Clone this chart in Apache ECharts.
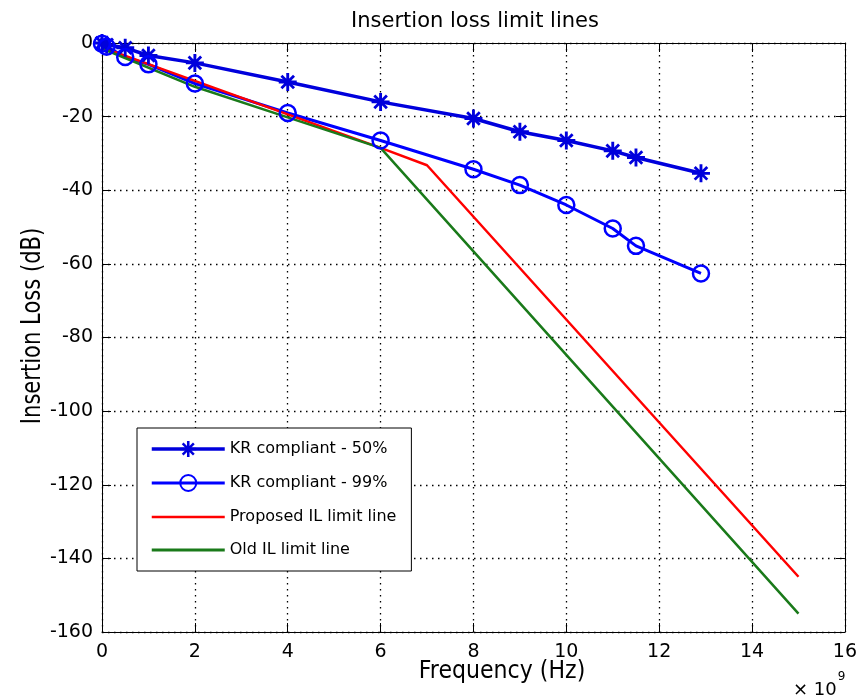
<!DOCTYPE html>
<html>
<head>
<meta charset="utf-8">
<script src="https://cdn.jsdelivr.net/npm/echarts@6/dist/echarts.min.js"></script>
<style>html,body{margin:0;padding:0;background:#fff}#c{width:860px;height:698px}</style>
</head>
<body>
<div id="c"></div>
<script>
// ---- data (frequency in units of 1e9 Hz, loss in dB) ----
const xTicks = [0, 2, 4, 6, 8, 10, 12, 14, 16];
const yTicks = [-160, -140, -120, -100, -80, -60, -40, -20, 0];

const freqKR = [0, 0.1, 0.5, 1, 2, 4, 6, 8, 9, 10, 11, 11.5, 12.9];
const lossKR50 = [0, -0.5, -1.3, -3.4, -5.4, -10.6, -16, -20.5, -24.1, -26.5, -29.3, -31.1, -35.4];
const lossKR99 = [-0.2, -1.0, -3.8, -5.8, -11.0, -19.0, -26.5, -34.3, -38.6, -44.0, -50.4, -55.1, -62.6];

const freqProposed = [0, 6, 7, 15];
const lossProposed = [-1.2, -28.5, -33.2, -145];

const freqOld = [0, 2, 4, 6, 15];
const lossOld = [-1.5, -11.9, -20.2, -28.5, -155];

const names = ['KR compliant - 50%', 'KR compliant - 99%', 'Proposed IL limit line', 'Old IL limit line'];
const titleText = 'Insertion loss limit lines';
const xName = 'Frequency (Hz)';
const yName = 'Insertion Loss (dB)';

function pairs(xs, ys) { return xs.map((x, i) => [x, ys[i]]); }

const starPath = 'path://M-1.6,-10L1.6,-10L1.6,10L-1.6,10Z M-10,-1.6L10,-1.6L10,1.6L-10,1.6Z M-5.9,-8.1L8.1,5.9L5.9,8.1L-8.1,-5.9Z M5.9,-8.1L8.1,-5.9L-5.9,8.1L-8.1,5.9Z';

const FONT = 'DejaVu Sans, Verdana, sans-serif';
const chart = echarts.init(document.getElementById('c'), null, { renderer: 'canvas' });

const gridLine = { show: true, lineStyle: { color: '#000', width: 1.3, type: [1.5, 4.5] } };
const axisLineStyle = { show: true, onZero: false, lineStyle: { color: '#000', width: 1 } };
const tickStyle = { show: true, inside: true, length: 9, lineStyle: { color: '#000', width: 1 } };

chart.setOption({
  animation: false,
  backgroundColor: '#fff',
  title: {
    text: titleText,
    left: 470, top: 6, textAlign: 'center',
    textStyle: { fontFamily: FONT, fontSize: 21, fontWeight: 'normal', color: '#000' }
  },
  grid: { left: 102, right: 14, top: 43, bottom: 66, containLabel: false },
  legend: {
    orient: 'vertical',
    left: 137, top: 428,
    backgroundColor: '#fff',
    borderColor: '#000', borderWidth: 1,
    padding: [13, 15, 13, 13],
    itemWidth: 73, itemHeight: 20, itemGap: 17,
    textStyle: { fontFamily: FONT, fontSize: 16, color: '#000' },
    data: [
      { name: names[0], lineStyle: { width: 3.5 } },
      { name: names[1], lineStyle: { width: 3 } },
      { name: names[2], lineStyle: { width: 2.5 }, itemStyle: { color: 'rgba(0,0,0,0)', borderWidth: 0 } },
      { name: names[3], lineStyle: { width: 3 }, itemStyle: { color: 'rgba(0,0,0,0)', borderWidth: 0 } }
    ]
  },
  xAxis: [{
    type: 'value', min: 0, max: 16, interval: 2, position: 'bottom',
    axisLine: axisLineStyle,
    axisTick: tickStyle,
    axisLabel: { color: '#000', fontFamily: FONT, fontSize: 19, margin: 11,
      formatter: v => xTicks.includes(v) ? String(v) : '' },
    splitLine: gridLine
  }, {
    type: 'value', min: 0, max: 16, interval: 2, position: 'top',
    axisLine: axisLineStyle,
    axisTick: tickStyle,
    axisLabel: { show: false }, splitLine: { show: false }
  }],
  yAxis: [{
    type: 'value', min: -160, max: 0, interval: 20, position: 'left',
    axisLine: axisLineStyle,
    axisTick: tickStyle,
    axisLabel: { color: '#000', fontFamily: FONT, fontSize: 19, margin: 9,
      formatter: v => yTicks.includes(v) ? String(v) : '' },
    splitLine: gridLine
  }, {
    type: 'value', min: -160, max: 0, interval: 20, position: 'right',
    axisLine: axisLineStyle,
    axisTick: tickStyle,
    axisLabel: { show: false }, splitLine: { show: false }
  }],
  graphic: [{
    type: 'text', x: 502, y: 672, scaleX: 0.92,
    style: { text: xName, fontFamily: FONT, fontSize: 24, fill: '#000', align: 'center', verticalAlign: 'middle' }
  }, {
    type: 'text', x: 33, y: 326, rotation: Math.PI / 2, scaleX: 0.78,
    style: { text: yName, fontFamily: FONT, fontSize: 27, fill: '#000', align: 'center', verticalAlign: 'middle' }
  }, {
    type: 'text', left: 793, top: 671,
    style: {
      text: '{a|× 10}{b|9}',
      rich: {
        a: { fontFamily: FONT, fontSize: 18, fill: '#000', padding: [10, 0, 0, 0] },
        b: { fontFamily: FONT, fontSize: 12, fill: '#000', verticalAlign: 'top', padding: [0, 0, 12, 1] }
      }
    }
  }],
  series: [{
    name: names[0], type: 'line', xAxisIndex: 0, yAxisIndex: 0,
    data: pairs(freqKR, lossKR50),
    color: '#0000dc',
    lineStyle: { width: 3.5, color: '#0000dc' },
    symbol: starPath, symbolSize: 18, showAllSymbol: true,
    itemStyle: { color: '#0000dc', borderWidth: 0 }
  }, {
    name: names[1], type: 'line', xAxisIndex: 0, yAxisIndex: 0,
    data: pairs(freqKR, lossKR99),
    color: '#0000ff',
    lineStyle: { width: 3, color: '#0000ff' },
    symbol: 'circle', symbolSize: 16, showAllSymbol: true,
    itemStyle: { color: 'rgba(0,0,0,0)', borderColor: '#0000ff', borderWidth: 2.5 }
  }, {
    name: names[2], type: 'line', xAxisIndex: 0, yAxisIndex: 0,
    data: pairs(freqProposed, lossProposed),
    color: '#ff0000',
    lineStyle: { width: 2.5, color: '#ff0000' },
    symbol: 'none'
  }, {
    name: names[3], type: 'line', xAxisIndex: 0, yAxisIndex: 0,
    data: pairs(freqOld, lossOld),
    color: '#1a7a1a',
    lineStyle: { width: 2.5, color: '#1a7a1a' },
    symbol: 'none'
  }]
});
</script>
</body>
</html>
